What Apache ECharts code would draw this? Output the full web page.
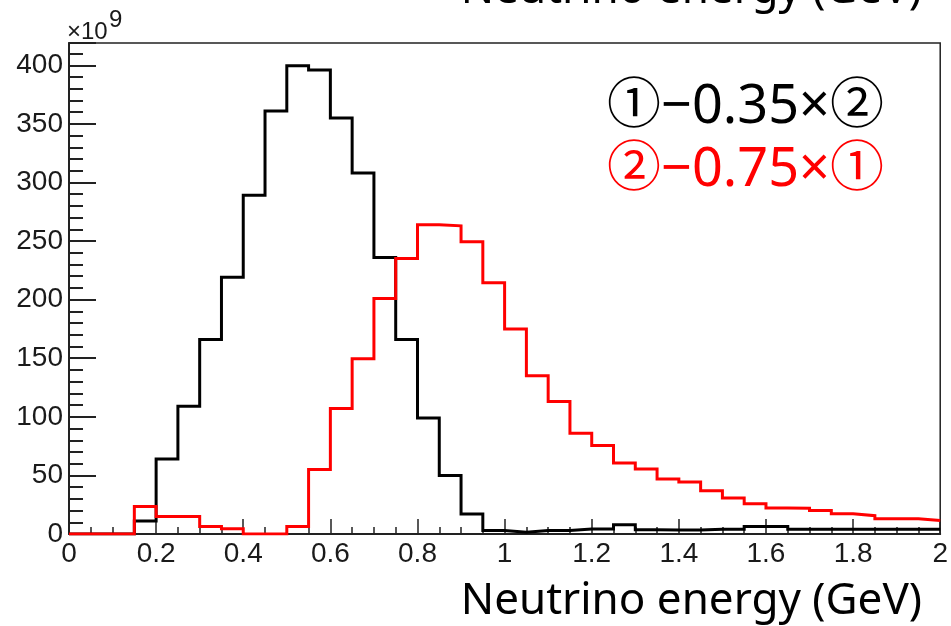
<!DOCTYPE html>
<html><head><meta charset="utf-8">
<script src="https://cdn.jsdelivr.net/npm/echarts@6/dist/echarts.min.js"></script>
<style>html,body{margin:0;padding:0;background:#fff}#c{width:951px;height:626px}</style>
</head><body><div id="c"></div><script>
// Bin lower edges (GeV), bin width 0.05
const binLow = [0.00,0.05,0.10,0.15,0.20,0.25,0.30,0.35,0.40,0.45,0.50,0.55,0.60,0.65,0.70,0.75,0.80,0.85,0.90,0.95,
                1.00,1.05,1.10,1.15,1.20,1.25,1.30,1.35,1.40,1.45,1.50,1.55,1.60,1.65,1.70,1.75,1.80,1.85,1.90,1.95];
const xMax = 2;
// counts in units of 10^9
const blackCounts = [0,0,0,11,64,109,166,219,289,361,399.5,396,355,308,236,166,99,50,17,3,
                     1.5,3,3,4.3,4.3,8,3.7,3.5,3.5,4,4,6.5,6.5,4,4,4,4,4,4,4];
const redCounts = [0,0,0,23.5,15,15,6.5,4.5,0,0,6.5,55,107,149.5,201,235,264,263,249.5,214.5,
                   175,135,113,86,75.5,60.5,55.5,47,44.3,37,30.7,25.8,22.2,22,20,17.3,15.6,13,13,11.6];
const blackLabel = '①−0.35×②';
const redLabel = '②−0.75×①';
const axisTitle = 'Neutrino energy (GeV)';

function histData(counts) {
  const d = binLow.map((x, i) => [x, counts[i]]);
  d.push([xMax, counts[counts.length - 1]]);
  return d;
}

const chart = echarts.init(document.getElementById('c'), null, {renderer: 'canvas'});
const axisColor = '#222';
const labelFont = {fontFamily: '"Liberation Sans", Arial, sans-serif', fontSize: 28, color: '#1a1a1a'};
chart.setOption({
  animation: false,
  backgroundColor: '#fff',
  grid: {left: 69, right: 9, top: 43, bottom: 92, show: true, borderColor: axisColor, borderWidth: 1.5, backgroundColor: 'transparent'},
  xAxis: {
    type: 'value', min: 0, max: xMax, interval: 0.2,
    axisLine: {show: true, onZero: false, lineStyle: {color: axisColor, width: 2}},
    axisTick: {show: true, inside: true, length: 15, lineStyle: {color: axisColor, width: 1.5}},
    minorTick: {show: true, splitNumber: 4, length: 7, lineStyle: {color: axisColor, width: 1.5}},
    splitLine: {show: false},
    axisLabel: Object.assign({margin: 6, showMinLabel: true, showMaxLabel: true}, labelFont)
  },
  yAxis: {
    type: 'value', min: 0, max: 419, interval: 50,
    axisLine: {show: true, onZero: false, lineStyle: {color: axisColor, width: 2}},
    axisTick: {show: true, inside: true, length: 27, lineStyle: {color: axisColor, width: 2}},
    minorTick: {show: true, splitNumber: 5, length: 14, lineStyle: {color: axisColor, width: 2}},
    splitLine: {show: false},
    axisLabel: Object.assign({margin: 6, showMaxLabel: false,
      formatter: v => (Math.abs(v % 50) < 1e-9 ? String(v) : '')}, labelFont)
  },
  series: [
    {type: 'line', step: 'end', showSymbol: false, z: 2, data: histData(blackCounts),
     lineStyle: {color: '#000', width: 3, join: 'miter'}},
    {type: 'line', step: 'end', showSymbol: false, z: 3, data: histData(redCounts),
     lineStyle: {color: '#ff0000', width: 3, join: 'miter'}}
  ],
  graphic: [
    {type: 'text', x: 67, y: 32, style: {text: '×10', fontSize: 24, fontFamily: '"Liberation Sans", Arial', fill: '#1a1a1a', align: 'left', verticalAlign: 'middle'}},
    {type: 'text', x: 109, y: 20, style: {text: '9', fontSize: 24, fontFamily: '"Liberation Sans", Arial', fill: '#1a1a1a', align: 'left', verticalAlign: 'middle'}},
    {type: 'text', x: 607, y: 108, style: {text: blackLabel, fontSize: 54, fontFamily: '"Noto Sans", "Noto Sans CJK JP"', fill: '#000', align: 'left', verticalAlign: 'middle'}},
    {type: 'text', x: 607, y: 171, style: {text: redLabel, fontSize: 54, fontFamily: '"Noto Sans", "Noto Sans CJK JP"', fill: '#ff0000', align: 'left', verticalAlign: 'middle'}},
    {type: 'text', x: 922, y: 601, style: {text: axisTitle, fontSize: 44, fontFamily: '"Noto Sans"', fill: '#000', align: 'right', verticalAlign: 'middle'}},
    {type: 'text', x: 922, y: -10, style: {text: axisTitle, fontSize: 44, fontFamily: '"Noto Sans"', fill: '#000', align: 'right', verticalAlign: 'middle'}}
  ]
});
</script></body></html>
